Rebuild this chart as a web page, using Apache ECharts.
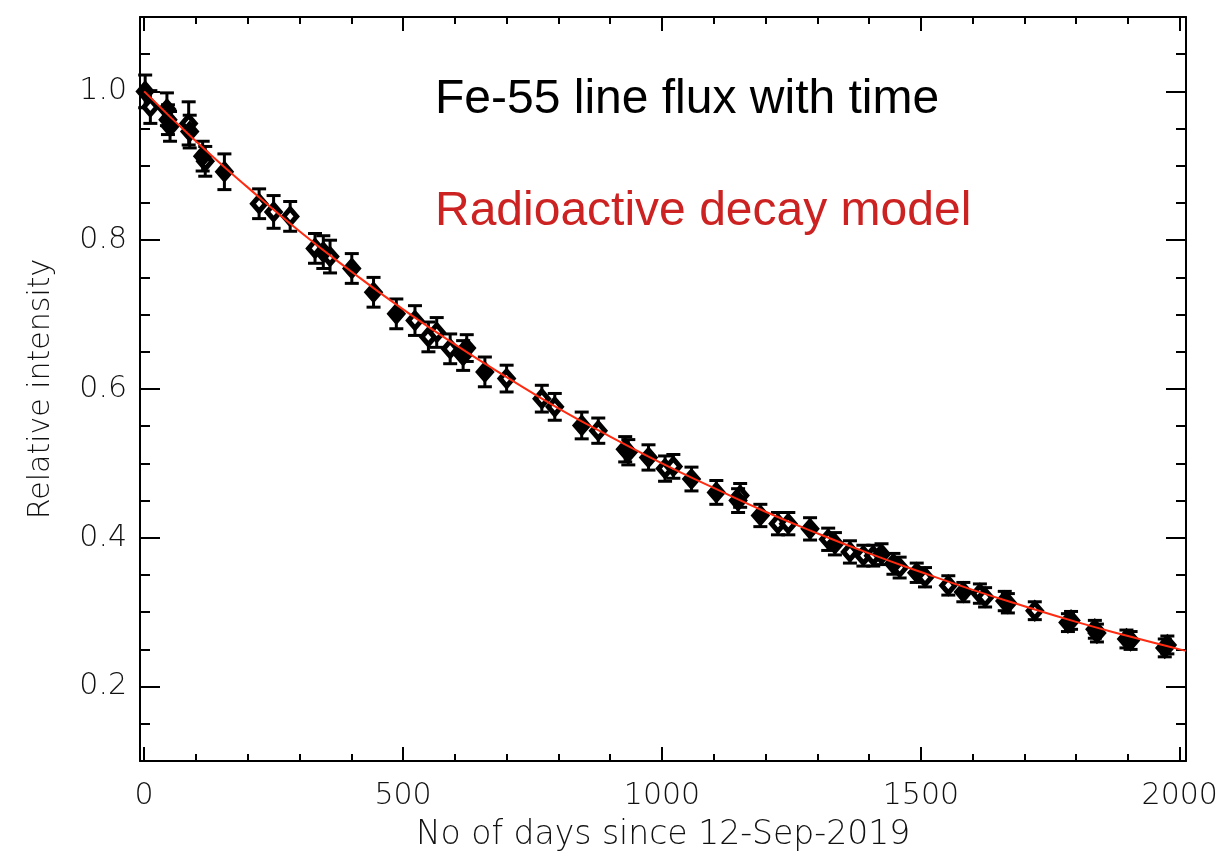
<!DOCTYPE html>
<html>
<head>
<meta charset="utf-8">
<script src="https://cdn.jsdelivr.net/npm/echarts@6/dist/echarts.min.js"></script>
<style>
html,body{margin:0;padding:0;background:#fff;}
#chart{width:1226px;height:856px;}
</style>
</head>
<body>
<div id="chart"></div>
<script>
// ---- data ----
const days = [2, 12, 44, 46, 50, 86, 88, 113, 118, 155, 222, 250, 282, 330, 346, 359, 401, 443, 487, 523,
  549, 565, 591, 616, 623, 658, 700, 768, 793, 845, 877, 929, 935, 974, 1006, 1022, 1057, 1105, 1147, 1151,
  1190, 1224, 1244, 1286, 1321, 1334, 1363, 1389, 1408, 1424, 1447, 1459, 1492, 1508, 1553, 1582, 1614, 1624,
  1662, 1668, 1720, 1784, 1790, 1836, 1840, 1897, 1905, 1971, 1976];
const intensity = [1.000, 0.979, 0.976, 0.962, 0.953, 0.957, 0.946, 0.913, 0.906, 0.892, 0.849, 0.838, 0.832,
  0.789, 0.784, 0.778, 0.762, 0.730, 0.701, 0.692, 0.670, 0.676, 0.654, 0.645, 0.655, 0.623, 0.614, 0.587,
  0.576, 0.551, 0.544, 0.519, 0.515, 0.508, 0.493, 0.496, 0.479, 0.461, 0.450, 0.457, 0.430, 0.419, 0.419,
  0.412, 0.398, 0.392, 0.381, 0.376, 0.376, 0.378, 0.365, 0.360, 0.353, 0.347, 0.336, 0.327, 0.325, 0.320,
  0.315, 0.312, 0.302, 0.286, 0.289, 0.277, 0.272, 0.264, 0.262, 0.252, 0.256];
const errors = [0.022, 0.022, 0.022, 0.020, 0.020, 0.029, 0.022, 0.020, 0.020, 0.024, 0.020, 0.022, 0.020,
  0.020, 0.022, 0.022, 0.020, 0.020, 0.020, 0.020, 0.020, 0.020, 0.020, 0.020, 0.018, 0.020, 0.018, 0.018,
  0.018, 0.018, 0.017, 0.017, 0.017, 0.017, 0.017, 0.016, 0.016, 0.016, 0.016, 0.016, 0.015, 0.015, 0.015,
  0.015, 0.015, 0.015, 0.015, 0.014, 0.014, 0.014, 0.014, 0.014, 0.013, 0.013, 0.013, 0.013, 0.013, 0.013,
  0.013, 0.013, 0.012, 0.012, 0.012, 0.012, 0.012, 0.012, 0.012, 0.012, 0.012];
const filled = [1, 0, 1, 1, 1, 0, 1, 1, 0, 1, 0, 0, 0, 0, 1, 0, 1, 1, 1, 0, 0, 0, 0, 1, 1, 1, 0, 0, 0, 1, 0, 1, 0,
  1, 0, 0, 1, 1, 1, 0, 1, 0, 0, 1, 0, 1, 0, 0, 0, 1, 1, 0, 1, 0, 0, 1, 0, 0, 1, 0, 0, 0, 1, 1, 0, 0, 1, 1, 0];

const modelDays = [0, 100, 200, 300, 400, 500, 600, 700, 800, 900, 1000, 1100, 1200, 1300, 1400, 1500, 1600,
  1700, 1800, 1900, 2000, 2012];
const modelValues = [1.000, 0.933, 0.871, 0.812, 0.758, 0.707, 0.660, 0.616, 0.574, 0.536, 0.500, 0.467,
  0.435, 0.406, 0.379, 0.354, 0.330, 0.308, 0.287, 0.268, 0.250, 0.248];

const xMajorTicks = [0, 500, 1000, 1500, 2000];
const xMinorTicks = [100, 200, 300, 400, 600, 700, 800, 900, 1100, 1200, 1300, 1400, 1600, 1700, 1800, 1900];
const yMajorTicks = [0.2, 0.4, 0.6, 0.8, 1.0];
const yMinorTicks = [0.15, 0.25, 0.3, 0.35, 0.45, 0.5, 0.55, 0.65, 0.7, 0.75, 0.85, 0.9, 0.95, 1.05];

const titleText = 'Fe-55 line flux with time';
const modelText = 'Radioactive decay model';
const xTitle = 'No of days since 12-Sep-2019';
const yTitle = 'Relative intensity';

// ---- build chart ----
const points = days.map((d, i) => [d, intensity[i], errors[i]]);
const openPts = [], fullPts = [];
days.forEach((d, i) => { (filled[i] ? fullPts : openPts).push([d, intensity[i]]); });
const curve = modelDays.map((d, i) => [d, modelValues[i]]);

const X_MIN = -8, X_MAX = 2012, Y_MIN = 0.1, Y_MAX = 1.1;
const labelFont = { fontFamily: 'DejaVu Sans', fontSize: 30, color: '#111', fontWeight: 200 };
const black = '#000';

function xAx(pos, major, withLine, extra) {
  return Object.assign({
    type: 'value', position: pos, min: X_MIN, max: X_MAX, gridIndex: 0,
    axisLine: { show: withLine, onZero: false, lineStyle: { color: black, width: 2 } },
    axisTick: { show: true, inside: true, length: major ? 14 : 7,
      customValues: major ? xMajorTicks : xMinorTicks, lineStyle: { color: black, width: 2 } },
    axisLabel: { show: false },
    splitLine: { show: false }, minorTick: { show: false }
  }, extra || {});
}
function yAx(pos, major, withLine, extra) {
  return Object.assign({
    type: 'value', position: pos, min: Y_MIN, max: Y_MAX, gridIndex: 0,
    axisLine: { show: withLine, onZero: false, lineStyle: { color: black, width: 2 } },
    axisTick: { show: true, inside: true, length: major ? 20 : 10,
      customValues: major ? yMajorTicks : yMinorTicks, lineStyle: { color: black, width: 2 } },
    axisLabel: { show: false },
    splitLine: { show: false }, minorTick: { show: false }
  }, extra || {});
}

const chart = echarts.init(document.getElementById('chart'), null, { renderer: 'canvas' });
chart.setOption({
  backgroundColor: '#fff',
  animation: false,
  grid: { left: 140, right: 40, top: 17, bottom: 95, containLabel: false, outerBoundsMode: 'none' },
  xAxis: [
    xAx('bottom', true, true, {
      axisLabel: Object.assign({ show: true, margin: 20, customValues: xMajorTicks,
        formatter: v => String(Math.round(v)) }, labelFont),
      name: xTitle, nameLocation: 'middle', nameGap: 58,
      nameTextStyle: Object.assign({}, labelFont, { fontSize: 33 })
    }),
    xAx('bottom', false, false),
    xAx('top', true, true),
    xAx('top', false, false)
  ],
  yAxis: [
    yAx('left', true, true, {
      axisLabel: Object.assign({ show: true, margin: 13, customValues: yMajorTicks,
        formatter: v => v.toFixed(1) }, labelFont),
      name: yTitle, nameLocation: 'middle', nameGap: 84, nameRotate: 90,
      nameTextStyle: Object.assign({}, labelFont)
    }),
    yAx('left', false, false),
    yAx('right', true, true),
    yAx('right', false, false)
  ],
  graphic: [
    { type: 'text', x: 435, y: 100, z: 10,
      style: { text: titleText, fill: '#000', font: '48px "Liberation Sans"', textVerticalAlign: 'middle' } },
    { type: 'text', x: 435, y: 212, z: 10,
      style: { text: modelText, fill: '#cc2222', font: '48px "Liberation Sans"', textVerticalAlign: 'middle' } }
  ],
  series: [
    {
      type: 'custom', xAxisIndex: 0, yAxisIndex: 0, z: 2, clip: false,
      data: points,
      renderItem: function (params, api) {
        const x = api.value(0), y = api.value(1), e = api.value(2);
        const top = api.coord([x, y + e]);
        const bot = api.coord([x, y - e]);
        const hw = 7;
        return { type: 'group', children: [
          { type: 'line', shape: { x1: top[0], y1: top[1], x2: bot[0], y2: bot[1] }, style: { stroke: black, lineWidth: 3 } },
          { type: 'line', shape: { x1: top[0] - hw, y1: top[1], x2: top[0] + hw, y2: top[1] }, style: { stroke: black, lineWidth: 3 } },
          { type: 'line', shape: { x1: bot[0] - hw, y1: bot[1], x2: bot[0] + hw, y2: bot[1] }, style: { stroke: black, lineWidth: 3 } }
        ] };
      }
    },
    {
      type: 'scatter', xAxisIndex: 0, yAxisIndex: 0, z: 3, data: openPts,
      symbol: 'diamond', symbolSize: [13, 15],
      itemStyle: { color: '#fff', borderColor: black, borderWidth: 5, opacity: 1 }
    },
    {
      type: 'scatter', xAxisIndex: 0, yAxisIndex: 0, z: 3, data: fullPts,
      symbol: 'diamond', symbolSize: [13, 15],
      itemStyle: { color: black, borderColor: black, borderWidth: 5, opacity: 1 }
    },
    {
      type: 'line', xAxisIndex: 0, yAxisIndex: 0, z: 4, data: curve, smooth: true,
      symbol: 'none', clip: false,
      lineStyle: { color: '#ff2a10', width: 2 }
    }
  ]
});
</script>
</body>
</html>
